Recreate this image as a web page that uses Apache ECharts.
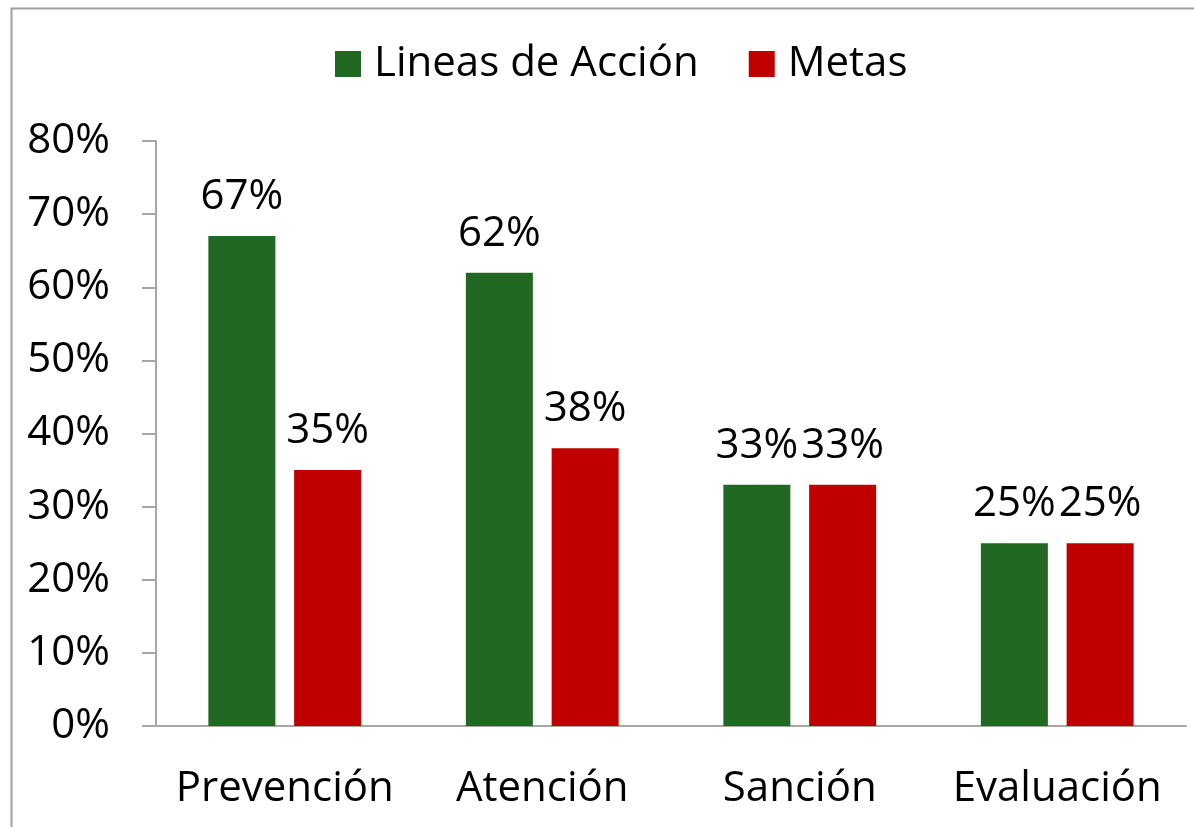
<!DOCTYPE html>
<html>
<head>
<meta charset="utf-8">
<script src="https://cdn.jsdelivr.net/npm/echarts@6/dist/echarts.min.js"></script>
<style>html,body{margin:0;padding:0;background:#fff}#c{width:1194px;height:827px}</style>
</head>
<body>
<div id="c"></div>
<script>
const categories = ['Prevención', 'Atención', 'Sanción', 'Evaluación'];
const lineasAccion = [0.67, 0.62, 0.33, 0.25];
const metas = [0.35, 0.38, 0.33, 0.25];
const seriesNames = ['Lineas de Acción', 'Metas'];

const FONT = '"Open Sans", sans-serif';
const FS = 42;
const pct = v => Math.round(v * 100) + '%';
const chart = echarts.init(document.getElementById('c'));
chart.setOption({
  backgroundColor: '#fff',
  animation: false,
  graphic: [{
    type: 'rect', shape: { x: 11.5, y: 8.5, width: 1400, height: 1000 },
    style: { fill: 'none', stroke: '#A0A0A0', lineWidth: 2 }, silent: true, z: -1
  }],
  legend: {
    top: 38, left: 330,
    itemWidth: 26, itemHeight: 26, itemGap: 50,
    icon: 'rect',
    textStyle: { fontFamily: FONT, fontSize: FS, color: '#000', padding: [0, 0, 0, 8] },
    data: seriesNames
  },
  grid: { left: 156, right: 8, top: 141, bottom: 101, containLabel: false },
  xAxis: {
    type: 'category', data: categories,
    axisLine: { show: true, lineStyle: { color: '#A6A6A6', width: 2 } },
    axisTick: { show: false },
    axisLabel: { interval: 0, fontFamily: FONT, fontSize: FS, color: '#000', margin: 42 }
  },
  yAxis: {
    type: 'value', min: 0, max: 0.8, interval: 0.1,
    splitLine: { show: false },
    axisLine: { show: true, lineStyle: { color: '#A6A6A6', width: 2 } },
    axisTick: { show: true, inside: false, length: 14, lineStyle: { color: '#A6A6A6', width: 2 } },
    axisLabel: { fontFamily: FONT, fontSize: FS, color: '#000', margin: 46, formatter: pct }
  },
  series: [
    {
      name: seriesNames[0], type: 'bar', data: lineasAccion,
      barWidth: 67, barGap: '28%',
      itemStyle: { color: '#216823' },
      label: { show: true, position: 'top', distance: 18, fontFamily: FONT, fontSize: FS, color: '#000', formatter: p => pct(p.value) }
    },
    {
      name: seriesNames[1], type: 'bar', data: metas,
      barWidth: 67,
      itemStyle: { color: '#C00000' },
      label: { show: true, position: 'top', distance: 18, fontFamily: FONT, fontSize: FS, color: '#000', formatter: p => pct(p.value) }
    }
  ]
});
</script>
</body>
</html>
